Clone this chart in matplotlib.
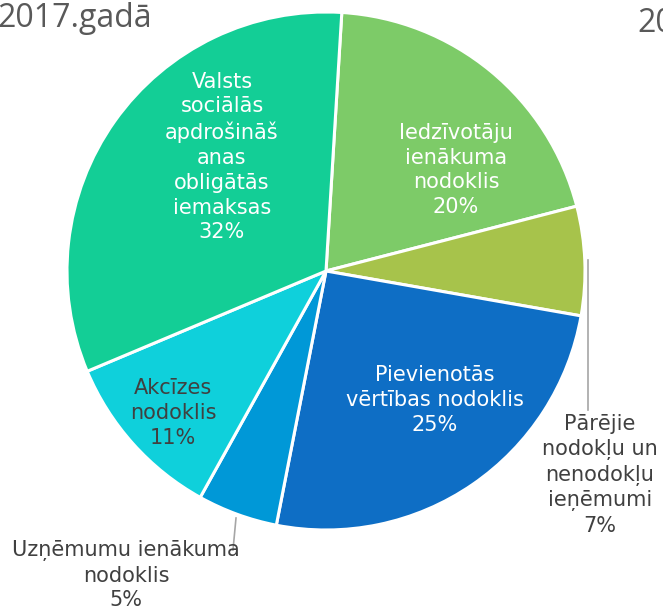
import matplotlib.pyplot as plt

# pie data, clockwise from the top
categories = [
    "Iedzīvotāju\nienākuma\nnodoklis",
    "Pārējie\nnodokļu un\nnenodokļu\nieņēmumi",
    "Pievienotās\nvērtības nodoklis",
    "Uzņēmumu ienākuma\nnodoklis",
    "Akcīzes\nnodoklis",
    "Valsts\nsociālās\napdrošināš\nanas\nobligātās\niemaksas",
]
shares = [20.0, 6.8, 25.3, 5.0, 10.6, 32.3]
colors = ["#7DCB68", "#A7C34B", "#0E6EC5", "#0098D7", "#0FD0DB", "#13CE96"]
text_colors = ["white", "#404040", "white", "#404040", "#404040", "white"]

# label anchors in pixel coords (x, y from top)
label_pos = [(456, 170), (600, 475), (435, 400), (126, 575), (173, 413), (222, 157)]

W, H = 663, 608
CX, CY, R = 326, 271, 259

fig = plt.figure(figsize=(W / 100, H / 100), dpi=100)
ax = fig.add_axes([0, 0, 1, 1])

ax.pie(
    shares,
    colors=colors,
    startangle=86.5,
    counterclock=False,
    center=(CX, H - CY),
    radius=R,
    wedgeprops={"edgecolor": "white", "linewidth": 2.2},
    frame=True,
)
ax.set_xlim(0, W)
ax.set_ylim(0, H)
ax.set_aspect("auto")
ax.axis("off")

for name, share, (x, y), tc in zip(categories, shares, label_pos, text_colors):
    ax.text(
        x, H - y, f"{name}\n{round(share)}%",
        ha="center", va="center", color=tc,
        fontsize=15, family="DejaVu Sans", linespacing=1.3,
    )

# leader lines for outside labels
ax.plot([588, 588], [H - 260, H - 410], color="#A6A6A6", lw=1.2)
ax.plot([236, 233], [H - 518, H - 550], color="#A6A6A6", lw=1.2)

fig.text(-0.004, 0.997, "2017.gadā", ha="left", va="top",
         fontsize=23, color="#595959", family="Open Sans")
fig.text(0.961, 0.988, "20", ha="left", va="top",
         fontsize=23, color="#595959", family="Open Sans")

fig.savefig("out.png", dpi=100)
